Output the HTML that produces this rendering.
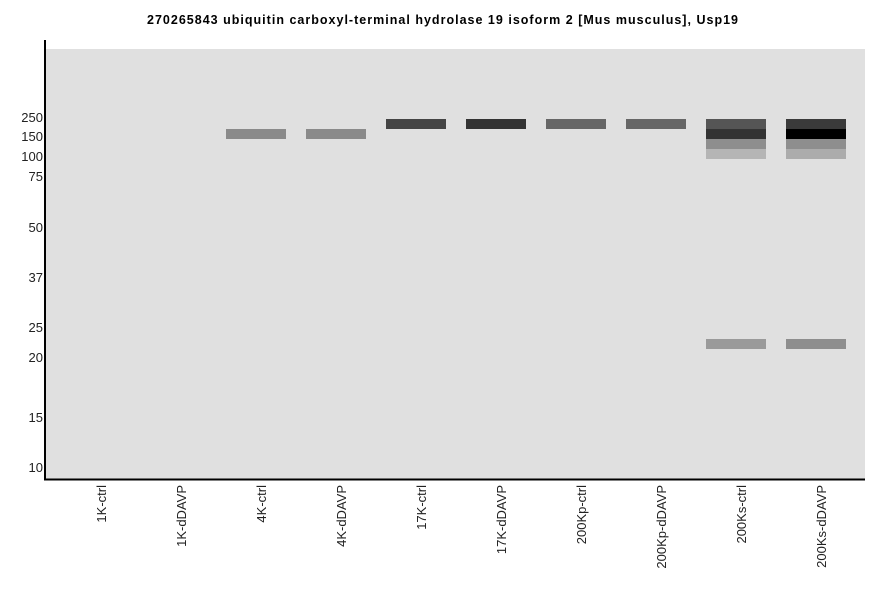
<!DOCTYPE html>
<html><head><style>
body{margin:0;background:#fff;width:886px;height:595px;overflow:hidden;font-family:"Liberation Sans",sans-serif}
</style></head><body>
<svg width="886" height="595" xmlns="http://www.w3.org/2000/svg" font-family="Liberation Sans, sans-serif">
<text x="147" y="24" textLength="591" lengthAdjust="spacing" font-size="12.5" font-weight="bold">270265843 ubiquitin carboxyl-terminal hydrolase 19 isoform 2 [Mus musculus], Usp19</text>
<rect x="46" y="49" width="819" height="430" fill="#e0e0e0"/>
<line x1="45" y1="40" x2="45" y2="480" stroke="#000" stroke-width="2"/>
<line x1="44" y1="479.5" x2="865" y2="479.5" stroke="#000" stroke-width="2"/>
<g font-size="13" text-anchor="end" fill="#222">
<text x="43" y="122">250</text><text x="43" y="141">150</text><text x="43" y="161">100</text><text x="43" y="181">75</text>
<text x="43" y="232">50</text><text x="43" y="282">37</text><text x="43" y="332">25</text><text x="43" y="362">20</text>
<text x="43" y="422">15</text><text x="43" y="472">10</text>
</g>
<rect x="226" y="129" width="60" height="10" fill="#8a8a8a"/>
<rect x="306" y="129" width="60" height="10" fill="#8a8a8a"/>
<rect x="386" y="119" width="60" height="10" fill="#444"/>
<rect x="466" y="119" width="60" height="10" fill="#333"/>
<rect x="546" y="119" width="60" height="10" fill="#666"/>
<rect x="626" y="119" width="60" height="10" fill="#666"/>
<rect x="706" y="119" width="60" height="10" fill="#555"/>
<rect x="706" y="129" width="60" height="10" fill="#333"/>
<rect x="706" y="139" width="60" height="10" fill="#8e8e8e"/>
<rect x="706" y="149" width="60" height="10" fill="#b5b5b5"/>
<rect x="786" y="119" width="60" height="10" fill="#3a3a3a"/>
<rect x="786" y="129" width="60" height="10" fill="#000"/>
<rect x="786" y="139" width="60" height="10" fill="#8e8e8e"/>
<rect x="786" y="149" width="60" height="10" fill="#acacac"/>
<rect x="706" y="339" width="60" height="10" fill="#9a9a9a"/>
<rect x="786" y="339" width="60" height="10" fill="#8e8e8e"/>
<g font-size="13" text-anchor="end" fill="#222">
<text transform="translate(106,485) rotate(-90)">1K-ctrl</text>
<text transform="translate(186,485) rotate(-90)">1K-dDAVP</text>
<text transform="translate(266,485) rotate(-90)">4K-ctrl</text>
<text transform="translate(346,485) rotate(-90)">4K-dDAVP</text>
<text transform="translate(426,485) rotate(-90)">17K-ctrl</text>
<text transform="translate(506,485) rotate(-90)">17K-dDAVP</text>
<text transform="translate(586,485) rotate(-90)">200Kp-ctrl</text>
<text transform="translate(666,485) rotate(-90)">200Kp-dDAVP</text>
<text transform="translate(746,485) rotate(-90)">200Ks-ctrl</text>
<text transform="translate(826,485) rotate(-90)">200Ks-dDAVP</text>
</g>
</svg>
</body></html>
